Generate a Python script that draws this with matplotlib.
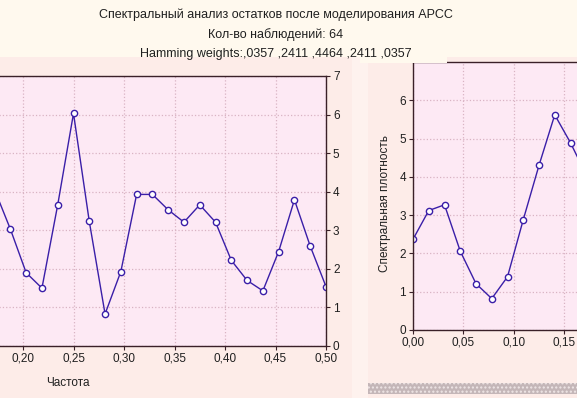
import matplotlib
matplotlib.use("Agg")
import matplotlib.pyplot as plt
from matplotlib.patches import Rectangle
from matplotlib.ticker import FuncFormatter
import numpy as np

# Spectral analysis of ARMA residuals, n = 64 -> frequencies k/64, k = 0..32
n_obs = 64
freq = np.arange(n_obs // 2 + 1) / n_obs
density = [2.37, 3.12, 3.27, 2.06, 1.21, 0.82, 1.39, 2.88, 4.30, 5.62, 4.89,
           4.05, 3.03, 1.90, 1.50, 3.66, 6.03, 3.23, 0.83, 1.93, 3.93, 3.93,
           3.53, 3.21, 3.66, 3.21, 2.22, 1.70, 1.43, 2.45, 3.79, 2.59, 1.54]

# only the ticks that show inside each (cropped) window
x_ticks_left = [0.20, 0.25, 0.30, 0.35, 0.40, 0.45, 0.50]
x_ticks_right = [0.0, 0.05, 0.10, 0.15]
title_lines = ["Спектральный анализ остатков после моделирования АРСС",
               "Кол-во наблюдений: 64",
               "Hamming weights:,0357 ,2411 ,4464 ,2411 ,0357"]

W, H = 577, 398
plt.rcParams['font.family'] = ['Liberation Sans', 'DejaVu Sans']
fig = plt.figure(figsize=(W / 100, H / 100), dpi=100)
fig.patch.set_facecolor('#fdece8')

def px_rect(x0, y0, x1, y1, **kw):
    # rectangle given in pixel coords, y measured from the top
    r = Rectangle((x0 / W, 1 - y1 / H), (x1 - x0) / W, (y1 - y0) / H,
                  transform=fig.transFigure, **kw)
    fig.patches.append(r)

def px_axes(left, top, right, bottom):
    return fig.add_axes([left / W, 1 - bottom / H, (right - left) / W, (bottom - top) / H])

# window backgrounds
px_rect(0, 0, W, 57, facecolor='#fff9ee', edgecolor='none', zorder=-2)
px_rect(352, 57, 368, H, facecolor='#fef2ee', edgecolor='none', zorder=-2)

LINE_C = '#3a1ea8'
SPINE_C = '#3a2028'
FACE_C = '#fde9f4'
GRID_C = '#d9b3c3'
comma = FuncFormatter(lambda v, p: ('%.2f' % v).replace('.', ','))

def style(ax, xt):
    ax.set_facecolor(FACE_C)
    ax.plot(freq, density, color=LINE_C, lw=1.0, marker='o', ms=4.5,
            mfc='white', mec=LINE_C, mew=1.0, clip_on=True)
    ax.set_xlim(0, 0.5)
    ax.set_ylim(0, 7)
    ax.set_xticks(xt)
    ax.xaxis.set_major_formatter(comma)
    ax.grid(True, color=GRID_C, ls=':', lw=0.9)
    for s in ax.spines.values():
        s.set_color(SPINE_C)
        s.set_linewidth(1.0)
    ax.tick_params(colors=SPINE_C, labelcolor='#202020', labelsize=8.5,
                   length=3, width=0.8, pad=2)

# left window (x axis starts far off-screen)
ax1 = px_axes(-179, 76, 326, 346)
style(ax1, x_ticks_left)
ax1.yaxis.tick_right()
ax1.set_yticks(range(0, 8))

# right window
ax2 = px_axes(413, 62, 917, 330)
style(ax2, x_ticks_right)
ax2.set_yticks(range(0, 7))

# cover the part of the right window hidden behind the title box
px_rect(360, 50, 447, 62.5, facecolor='#fff9ee', edgecolor='none', zorder=2.5)

# titles
for txt, y in zip(title_lines, [15, 35, 54]):
    fig.text(276 / W, 1 - y / H, txt, ha='center', va='center', fontsize=9, color='#202020')

fig.text(68 / W, 1 - 383 / H, 'Частота', ha='center', va='center', fontsize=8.5, color='#202020')
fig.text(385 / W, 1 - 203 / H, 'Спектральная плотность', rotation=90,
         ha='center', va='center', fontsize=8.5, color='#202020')

# grey dotted status bar at the bottom right
px_rect(368, 383, W, 394, facecolor='#c4b6b8', edgecolor='#efe6e6', hatch='....',
        lw=0, zorder=3)

fig.savefig('out.png', dpi=100, facecolor=fig.get_facecolor())
